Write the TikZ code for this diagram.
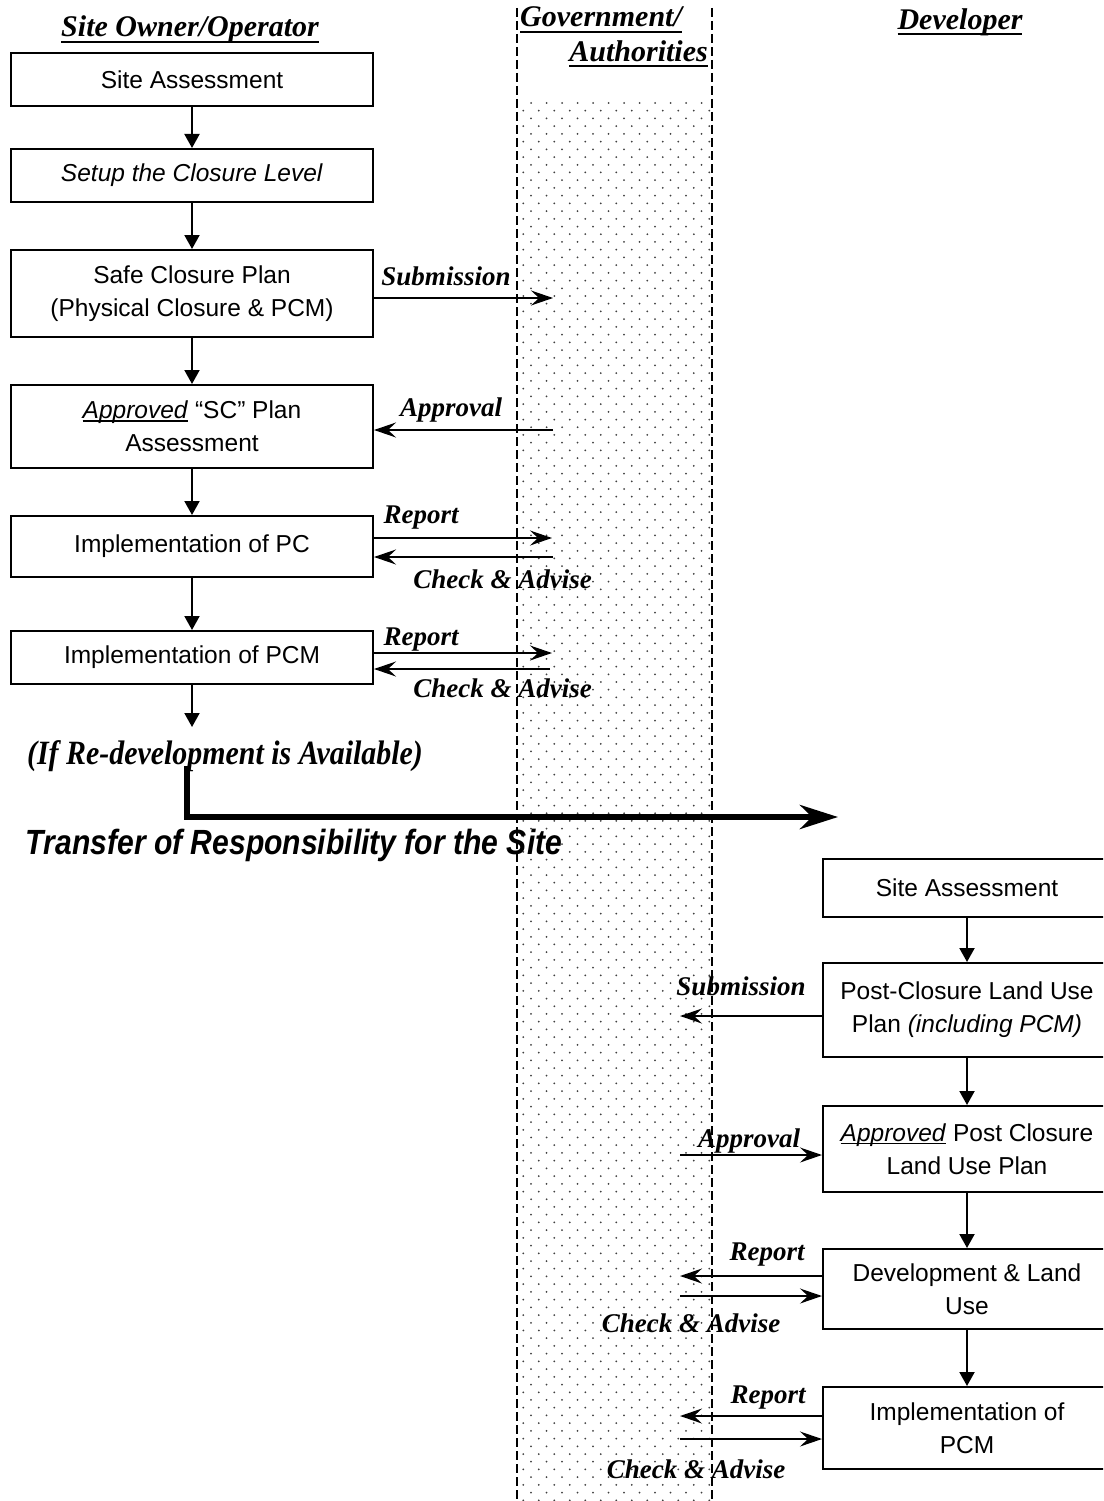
\documentclass[tikz,border=0pt]{standalone}
\usepackage{fontspec}
\setmainfont{Liberation Sans}
\newfontfamily\labelfont{Liberation Serif}
\newfontfamily\narrowserif[FakeStretch=0.88]{Liberation Serif}
\newfontfamily\narrowsans[FakeStretch=0.86]{Liberation Sans}
\usetikzlibrary{arrows.meta}

% underline with chosen offset (#1) and thickness (#2)
\newcommand{\ulbox}[3]{\setbox0=\hbox{#3}\leavevmode\rlap{\rule[-#1]{\wd0}{#2}}\box0\relax}

\definecolor{dotc}{gray}{0.25}

\tikzset{
  box/.style={draw, line width=2pt, minimum width=362pt, align=center,
    inner sep=0pt, font=\fontsize{24.5}{33}\selectfont},
  rbox/.style={box, minimum width=288pt},
  lbl/.style={anchor=base, inner sep=0pt,
    font=\labelfont\fontsize{27}{30}\selectfont\bfseries\itshape},
  hdr/.style={anchor=base, inner sep=0pt,
    font=\labelfont\fontsize{30}{34}\selectfont\bfseries\itshape},
  varrow/.style={line width=2pt, -{Triangle[length=14pt,width=15pt]}},
  harrow/.style={line width=1.8pt, -{Stealth[length=22pt,width=15pt,inset=8pt]}},
  bigarrow/.style={line width=6pt, -{Stealth[length=38pt,width=24pt,inset=12pt]}},
  lane/.style={line width=1.2pt, dash pattern=on 9pt off 4pt}
}

\begin{document}
\begin{tikzpicture}[x=1pt,y=-1pt]
\useasboundingbox (0,0) rectangle (1103,1501);
\clip (0,0) rectangle (1103,1501);

% dotted band of the authorities lane
\foreach \r in {0,...,181} {
  \pgfmathsetmacro\yy{103+7.72*\r}
  \ifodd\r
    \foreach \c in {0,...,12} { \fill[dotc] (523.25+15.5*\c,\yy) circle (1pt); }
  \else
    \foreach \c in {0,...,11} { \fill[dotc] (531+15.5*\c,\yy) circle (1pt); }
  \fi
}

% lane borders
\draw[lane] (517,8) -- (517,1501);
\draw[lane] (712,8) -- (712,1501);

% lane headings
\node[hdr] (hOwner) at (190,37) {\ulbox{6pt}{2pt}{Site Owner/Operator}};
\node[hdr, anchor=base west] (hGov) at (520,27) {\ulbox{6pt}{2pt}{Government/}};
\node[hdr, anchor=base east] (hAuth) at (708,62) {\ulbox{5pt}{2pt}{Authorities}};
\node[hdr] (hDev) at (960,30) {\ulbox{5pt}{2pt}{Developer}};

% site owner / operator steps
\node[box, minimum height=53pt] (a1) at (192,79.5) {Site Assessment};
\node[box, minimum height=53pt] (a2) at (192,175.5) {\textit{Setup the Closure Level}};
\node[box, minimum height=87pt] (a3) at (192,293.5) {Safe Closure Plan\\(Physical Closure \& PCM)};
\node[box, minimum height=83pt] (a4) at (192,426.5) {\ulbox{3pt}{1.3pt}{\textit{Approved}} “SC” Plan\\Assessment};
\node[box, minimum height=61pt] (a5) at (192,546.5) {Implementation of PC};
\node[box, minimum height=53pt] (a6) at (192,657.5) {Implementation of PCM};

\draw[varrow] (a1.south) -- (a2.north);
\draw[varrow] (a2.south) -- (a3.north);
\draw[varrow] (a3.south) -- (a4.north);
\draw[varrow] (a4.south) -- (a5.north);
\draw[varrow] (a5.south) -- (a6.north);
\coordinate (aEnd) at (192,727);
\draw[varrow] (a6.south) -- (aEnd);

% exchanges with the authorities (owner side)
\coordinate (gSub) at (553,298);
\draw[harrow] (a3.east |- gSub) -- (gSub);
\node[lbl] (lSub) at (446,285) {Submission};

\coordinate (gApp) at (553,430);
\draw[harrow] (gApp) -- (a4.east |- gApp);
\node[lbl] (lApp) at (451,416) {Approval};

\coordinate (gRep1) at (552,538);
\draw[harrow] (a5.east |- gRep1) -- (gRep1);
\coordinate (gChk1) at (553,557);
\draw[harrow] (gChk1) -- (a5.east |- gChk1);
\node[lbl] (lRep1) at (421,523) {Report};
\node[lbl] (lChk1) at (502.5,588) {Check \& Advise};

\coordinate (gRep2) at (552,653);
\draw[harrow] (a6.east |- gRep2) -- (gRep2);
\coordinate (gChk2) at (550,669);
\draw[harrow] (gChk2) -- (a6.east |- gChk2);
\node[lbl] (lRep2) at (421,645) {Report};
\node[lbl] (lChk2) at (502.5,697) {Check \& Advise};

% hand-over to the developer
\node[anchor=base, inner sep=0pt, font=\narrowserif\fontsize{34}{38}\selectfont\bfseries\itshape]
  (cond) at (225,764) {(If Re-development is Available)};
\coordinate (tStart) at (187,766);
\coordinate (tEnd) at (838,817);
\draw[bigarrow] (tStart) |- (tEnd);
\node[anchor=base, inner sep=0pt, font=\narrowsans\fontsize{35}{40}\selectfont\bfseries\itshape]
  (transfer) at (294,854) {Transfer of Responsibility for the Site};

% developer steps
\node[rbox, minimum height=58pt] (d1) at (967,888) {Site Assessment};
\node[rbox, minimum height=94pt] (d2) at (967,1010) {Post-Closure Land Use\\Plan \textit{(including PCM)}};
\node[rbox, minimum height=86pt] (d3) at (967,1149) {\ulbox{3pt}{1.3pt}{\textit{Approved}} Post Closure\\Land Use Plan};
\node[rbox, minimum height=80pt] (d4) at (967,1289) {Development \& Land\\Use};
\node[rbox, minimum height=82pt] (d5) at (967,1428) {Implementation of\\PCM};

\draw[varrow] (d1.south) -- (d2.north);
\draw[varrow] (d2.south) -- (d3.north);
\draw[varrow] (d3.south) -- (d4.north);
\draw[varrow] (d4.south) -- (d5.north);

% exchanges with the authorities (developer side)
\coordinate (gSub2) at (680,1016);
\draw[harrow] (d2.west |- gSub2) -- (gSub2);
\node[lbl] (lSub2) at (741,995) {Submission};

\coordinate (gApp2) at (680,1155);
\draw[harrow] (gApp2) -- (d3.west |- gApp2);
\node[lbl] (lApp2) at (749,1147) {Approval};

\coordinate (gRep3) at (680,1276);
\draw[harrow] (d4.west |- gRep3) -- (gRep3);
\coordinate (gChk3) at (680,1296);
\draw[harrow] (gChk3) -- (d4.west |- gChk3);
\node[lbl] (lRep3) at (767,1260) {Report};
\node[lbl] (lChk3) at (691,1332) {Check \& Advise};

\coordinate (gRep4) at (680,1416);
\draw[harrow] (d5.west |- gRep4) -- (gRep4);
\coordinate (gChk4) at (680,1439);
\draw[harrow] (gChk4) -- (d5.west |- gChk4);
\node[lbl] (lRep4) at (768,1403) {Report};
\node[lbl] (lChk4) at (696,1478) {Check \& Advise};
\end{tikzpicture}
\end{document}
